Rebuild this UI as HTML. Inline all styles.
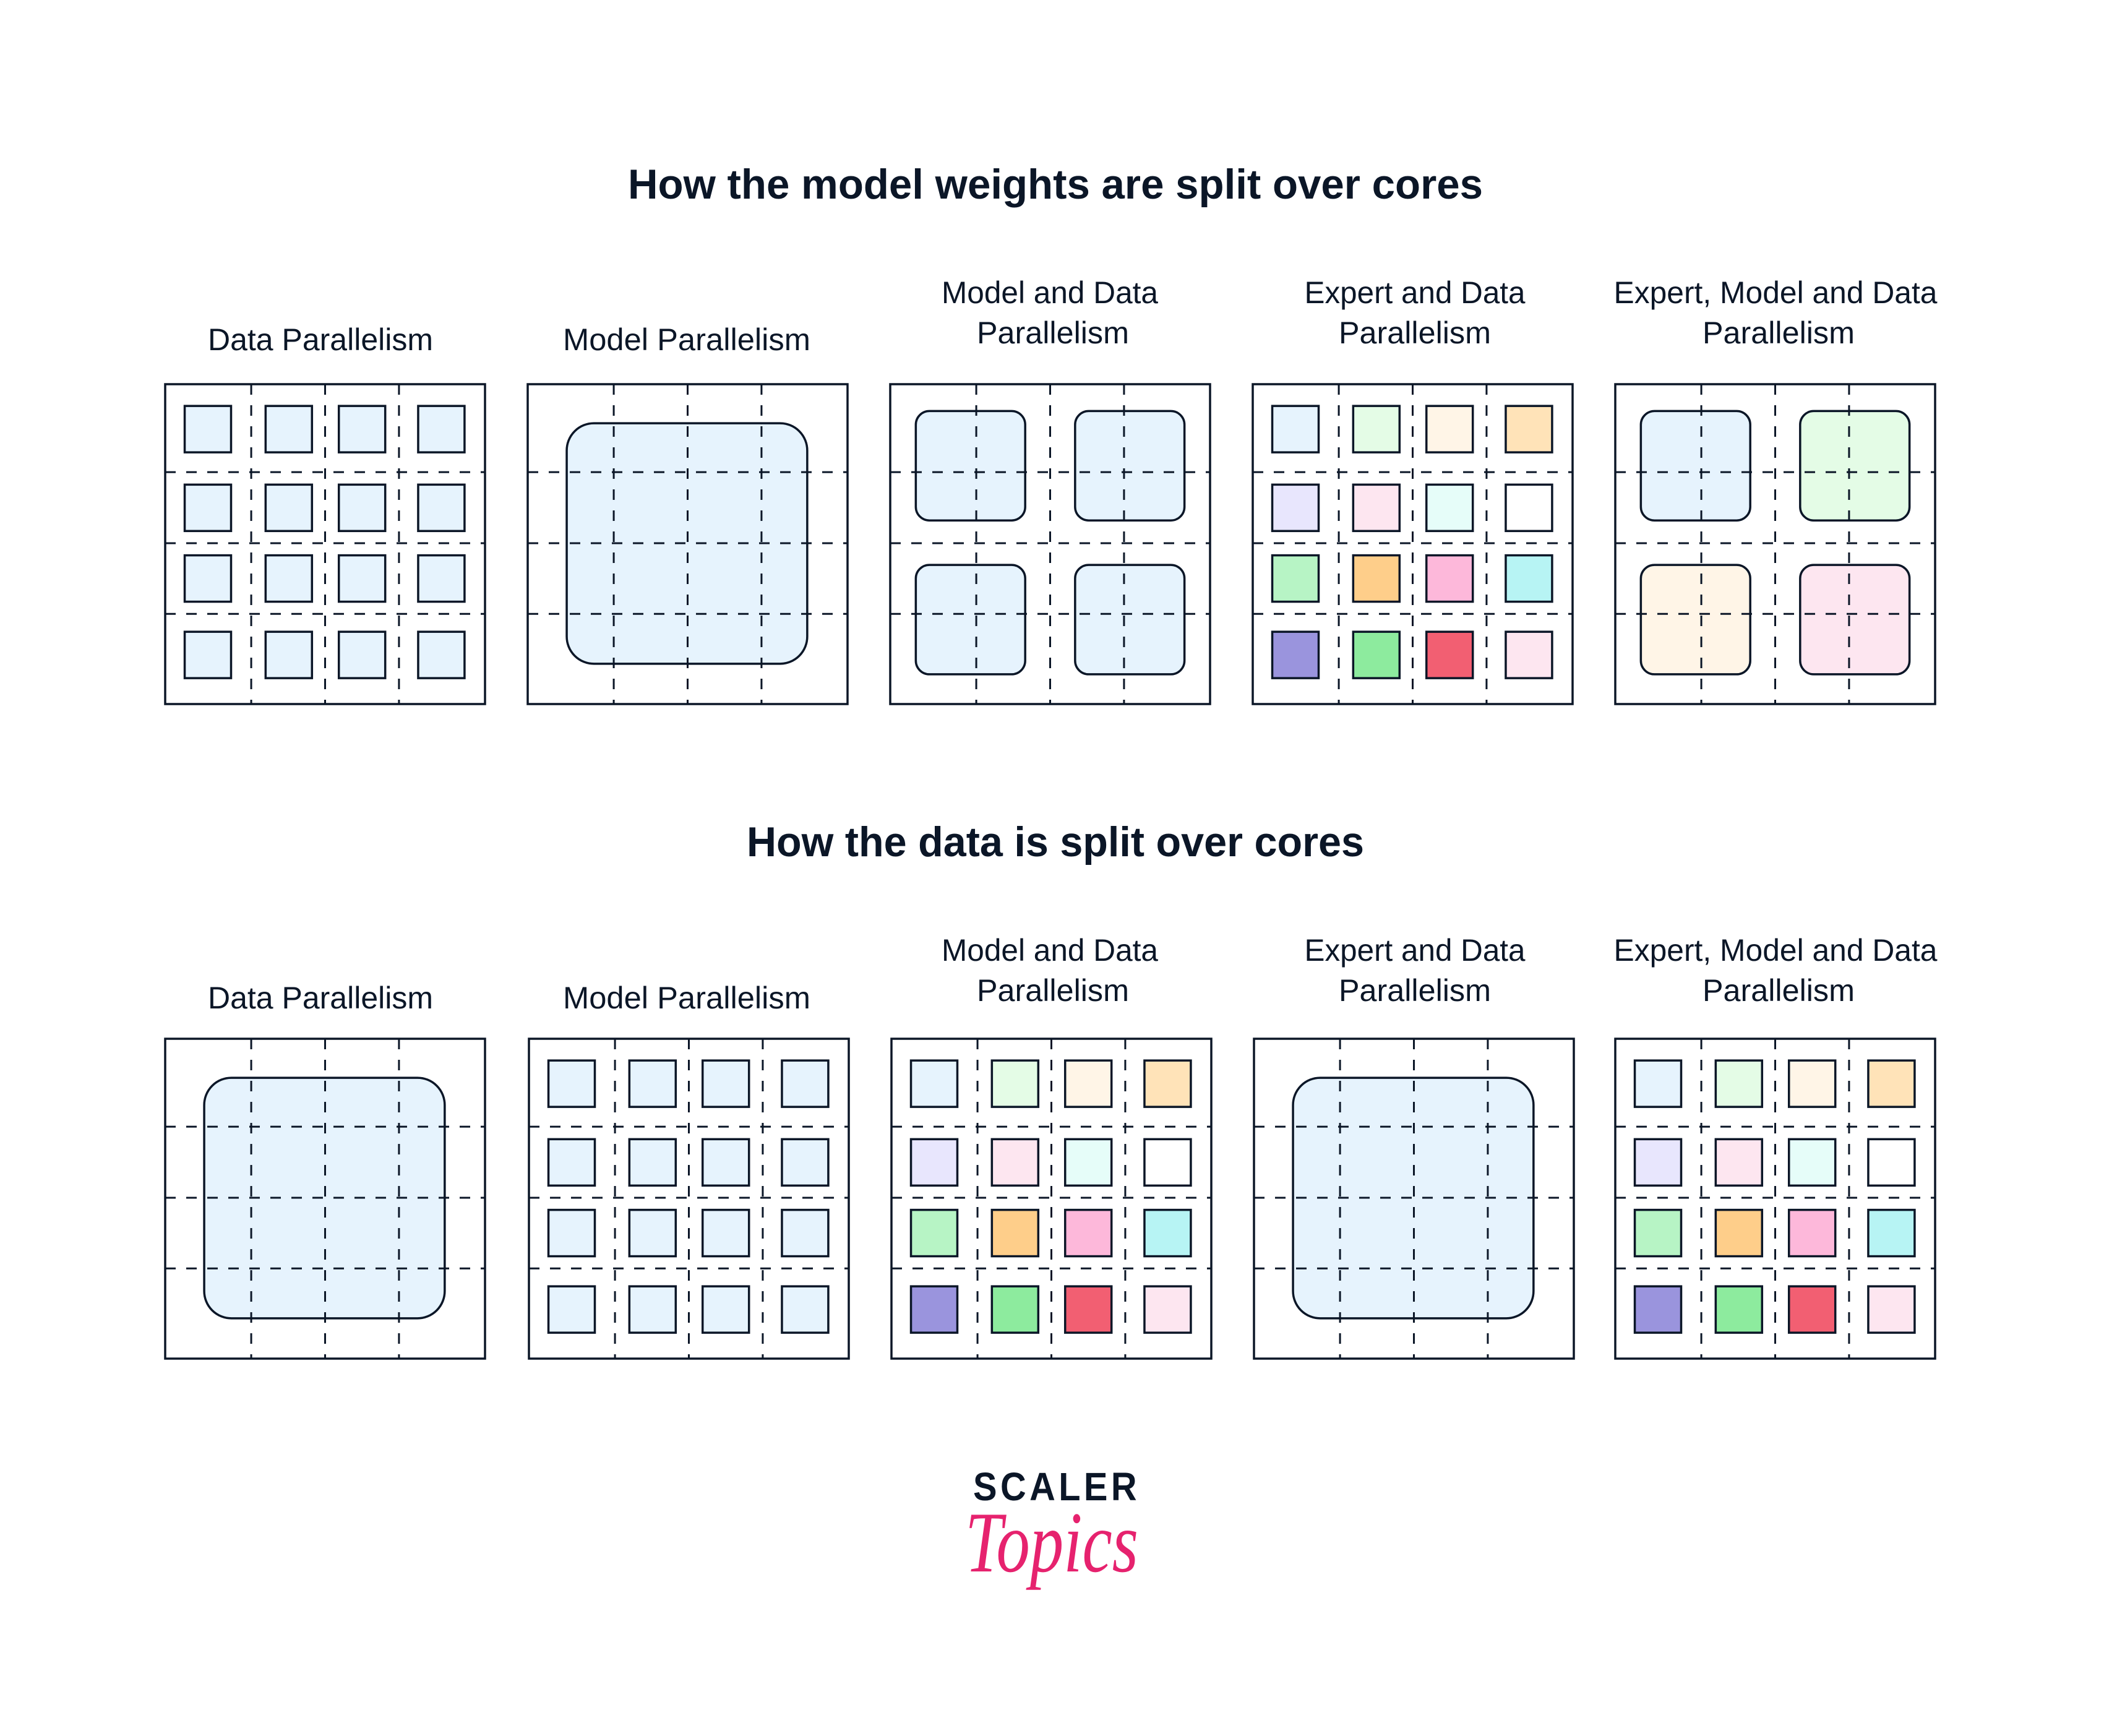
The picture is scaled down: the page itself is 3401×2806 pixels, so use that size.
<!DOCTYPE html>
<html><head><meta charset="utf-8"><style>html,body{margin:0;padding:0;background:#fff}svg{display:block}</style></head>
<body>
<svg id="s" width="3401" height="2806" viewBox="0 0 3401 2806" xmlns="http://www.w3.org/2000/svg">
<rect width="3401" height="2806" fill="#fff"/>
<g font-family="Liberation Sans, sans-serif" fill="#0b1627" text-anchor="middle">
<text x="1706" y="321" font-size="68" font-weight="bold" textLength="1382" lengthAdjust="spacingAndGlyphs">How the model weights are split over cores</text>
<text x="1706" y="1384" font-size="68" font-weight="bold" textLength="998" lengthAdjust="spacingAndGlyphs">How the data is split over cores</text>
<g font-size="50">
<text x="518" y="566" textLength="364" lengthAdjust="spacingAndGlyphs">Data Parallelism</text>
<text x="1110" y="566" textLength="400" lengthAdjust="spacingAndGlyphs">Model Parallelism</text>
<text x="1697" y="490" textLength="350" lengthAdjust="spacingAndGlyphs">Model and Data</text>
<text x="1702" y="555" textLength="246" lengthAdjust="spacingAndGlyphs">Parallelism</text>
<text x="2287" y="490" textLength="357" lengthAdjust="spacingAndGlyphs">Expert and Data</text>
<text x="2287" y="555" textLength="246" lengthAdjust="spacingAndGlyphs">Parallelism</text>
<text x="2870" y="490" textLength="523" lengthAdjust="spacingAndGlyphs">Expert, Model and Data</text>
<text x="2875" y="555" textLength="246" lengthAdjust="spacingAndGlyphs">Parallelism</text>

<text x="518" y="1630" textLength="364" lengthAdjust="spacingAndGlyphs">Data Parallelism</text>
<text x="1110" y="1630" textLength="400" lengthAdjust="spacingAndGlyphs">Model Parallelism</text>
<text x="1697" y="1553" textLength="350" lengthAdjust="spacingAndGlyphs">Model and Data</text>
<text x="1702" y="1618" textLength="246" lengthAdjust="spacingAndGlyphs">Parallelism</text>
<text x="2287" y="1553" textLength="357" lengthAdjust="spacingAndGlyphs">Expert and Data</text>
<text x="2287" y="1618" textLength="246" lengthAdjust="spacingAndGlyphs">Parallelism</text>
<text x="2870" y="1553" textLength="523" lengthAdjust="spacingAndGlyphs">Expert, Model and Data</text>
<text x="2875" y="1618" textLength="246" lengthAdjust="spacingAndGlyphs">Parallelism</text>
</g>
<text x="1708" y="2425" font-size="64" font-weight="bold" letter-spacing="6" textLength="270" lengthAdjust="spacingAndGlyphs">SCALER</text>
<text x="1700" y="2540" font-size="140" font-family="Liberation Serif, serif" font-style="italic" fill="#e6226e" textLength="280" lengthAdjust="spacingAndGlyphs">Topics</text>
</g>
<g id="boxes"></g>
</svg>
<script>
var NS="http://www.w3.org/2000/svg",G=document.getElementById("boxes"),D="#0b1627";
function el(t,a){var e=document.createElementNS(NS,t);for(var k in a)e.setAttribute(k,a[k]);G.appendChild(e);return e;}
var S=517,fv=[0.269,0.5,0.731],fh=[0.275,0.497,0.718];
var COL=[["#e6f3fd","#e4fce6","#fff5e7","#ffe3b8"],["#e8e6fd","#fde6f0","#e6fdf9","#ffffff"],["#b7f4c5","#fece8a","#fdb8da","#b7f4f4"],["#9a94dd","#8deb9e","#f25f72","#fde6f0"]];
var BL="#e6f3fd";
function box(x,y,type){
  var sx=[.061,.314,.543,.791],sy=[.068,.314,.535,.774],sz=.145*S;
  if(type=="grid"||type=="color"){
    for(var r=0;r<4;r++)for(var c=0;c<4;c++)
      el("rect",{x:x+sx[c]*S,y:y+sy[r]*S,width:sz,height:sz,fill:type=="grid"?BL:COL[r][c],stroke:D,"stroke-width":3.5});
  } else if(type=="big"){
    el("rect",{x:x+.122*S,y:y+.122*S,width:.752*S,height:.752*S,rx:44,fill:BL,stroke:D,"stroke-width":3.5});
  } else if(type=="four"||type=="four4"){
    var cs=type=="four"?[BL,BL,BL,BL]:[BL,"#e4fce6","#fff5e7","#fde6f0"];
    var px=[.08,.578],py=[.084,.565],k=0;
    for(var r=0;r<2;r++)for(var c=0;c<2;c++)
      el("rect",{x:x+px[c]*S,y:y+py[r]*S,width:.342*S,height:.342*S,rx:22,fill:cs[k++],stroke:D,"stroke-width":3.5});
  }
  fv.forEach(function(f){
    el("line",{x1:x+f*S,y1:y,x2:x+f*S,y2:y+S,stroke:D,"stroke-width":3,"stroke-dasharray":"17 17"});});
  fh.forEach(function(f){
    el("line",{x1:x,y1:y+f*S,x2:x+S,y2:y+f*S,stroke:D,"stroke-width":3,"stroke-dasharray":"17 17"});
  });
  el("rect",{x:x,y:y,width:S,height:S,fill:"none",stroke:D,"stroke-width":3.5});
}
var X=[267,853,1439,2025,2611];
box(X[0],621,"grid");box(X[1],621,"big");box(X[2],621,"four");box(X[3],621,"color");box(X[4],621,"four4");
var X2=[267,855,1441,2027,2611];
box(X2[0],1679,"big");box(X2[1],1679,"grid");box(X2[2],1679,"color");box(X2[3],1679,"big");box(X2[4],1679,"color");
</script>
</body></html>
